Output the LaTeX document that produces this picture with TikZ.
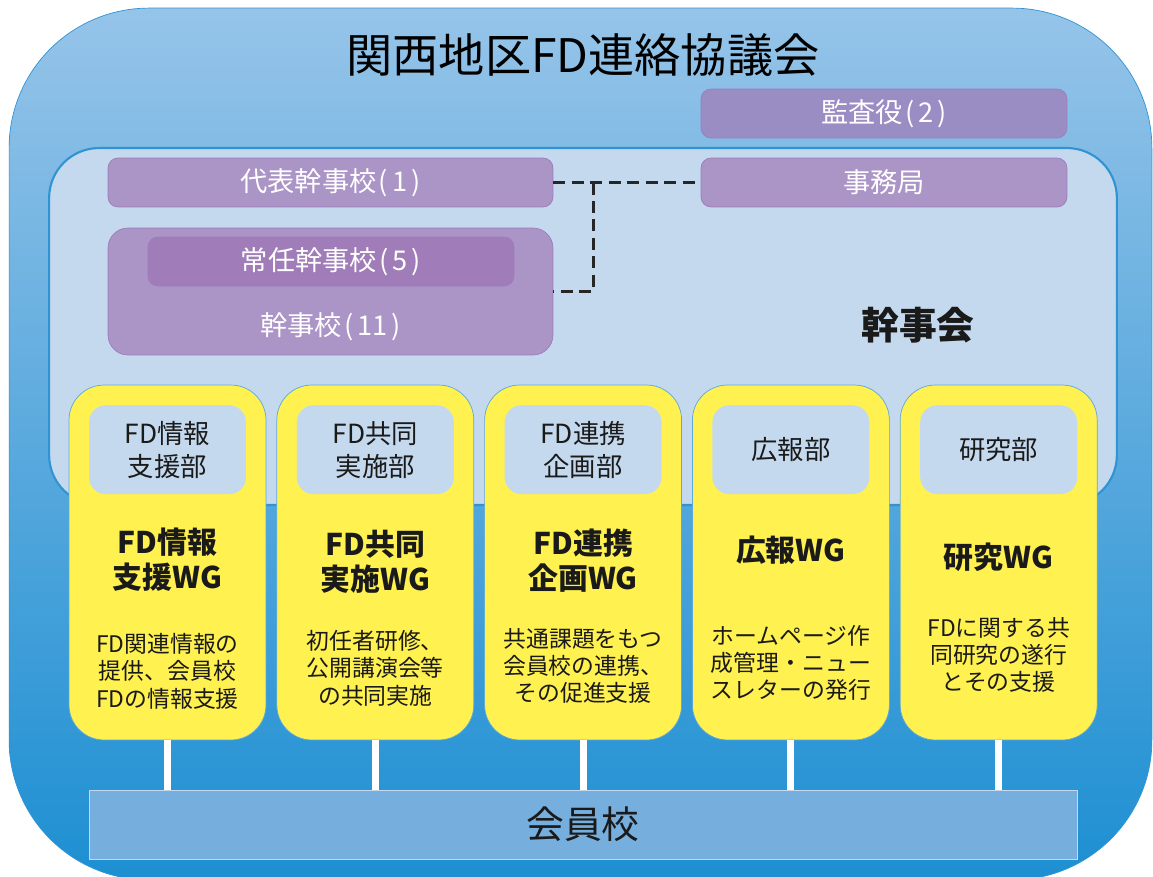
\documentclass[tikz,border=0pt]{standalone}
\usepackage{fontspec}
\setmainfont{Noto Sans CJK JP}
\usetikzlibrary{positioning}
\definecolor{skytop}{HTML}{96C4E9}
\definecolor{skybottom}{HTML}{1D8FD2}
\definecolor{skyline}{HTML}{2F93D4}
\definecolor{paleblue}{HTML}{C5D9EE}
\definecolor{lilac}{HTML}{AB94C6}
\definecolor{lilacdark}{HTML}{A07DB8}
\definecolor{lilacblue}{HTML}{998DC3}
\definecolor{lilacline}{HTML}{9C7DBA}
\definecolor{wgyellow}{HTML}{FFF150}
\definecolor{wgline}{HTML}{5BA8DC}
\definecolor{memberblue}{HTML}{76AEDD}
\definecolor{inktext}{HTML}{1A1A1A}
% number in brackets, spaced like the original
\newcommand{\pnum}[1]{\hspace{0.08em}(\hspace{0.15em}#1\hspace{0.15em})}

\begin{document}
\begin{tikzpicture}[x=0.02cm,y=-0.02cm,semithick]
\tikzstyle{council}=[rectangle,rounded corners=2.8cm,top color=skytop,bottom color=skybottom,draw=skyline,thin,minimum width=22.86cm,minimum height=17.44cm]
\tikzstyle{board}=[rectangle,rounded corners=1cm,fill=paleblue,draw=skyline,line width=1.2pt,minimum width=21.36cm,minimum height=7.14cm]
\tikzstyle{lilac box}=[rectangle,rounded corners=0.2cm,fill=lilac,draw=lilacline,thin,text=white,font=\fontsize{15.5}{18}\selectfont,minimum height=0.98cm]
\tikzstyle{wg box}=[rectangle,rounded corners=0.7cm,fill=wgyellow,draw=wgline,thin,minimum width=3.94cm,minimum height=7.1cm]
\tikzstyle{dept box}=[rectangle,rounded corners=0.34cm,fill=paleblue,minimum width=3.14cm,minimum height=1.78cm,align=center,text=inktext,font=\fontsize{15}{18.7}\selectfont]
\tikzstyle{wg title}=[align=center,text=inktext,font=\fontsize{17}{20}\selectfont\bfseries]
\tikzstyle{wg text}=[align=center,text=inktext,font=\fontsize{13}{15.6}\selectfont]
\tikzstyle{link}=[draw=black!85,line width=1.7pt,dash pattern=on 0.24cm off 0.13cm]
\tikzstyle{stem}=[draw=white,line width=0.14cm]
\useasboundingbox (0,0) rectangle (1153,876);

\node[council] (council) at (580.5,444) {};
\node (title) at (583,55) {\fontsize{26.3}{30}\selectfont 関西地区FD連絡協議会};
\node[board] (board) at (583,326.5) {};
\node[text=inktext,font=\fontsize{21.5}{25}\selectfont\bfseries] (boardname) at (918,325) {幹事会};

\node[lilac box,fill=lilacblue,minimum width=7.32cm] (audit) at (884,113.5) {監査役\pnum{2}};
\node[lilac box,minimum width=8.9cm] (daihyo) at (330.5,182.5) {代表幹事校\pnum{1}};
\node[lilac box,minimum width=7.32cm] (jimu) at (884,182.5) {事務局};
\node[lilac box,rounded corners=0.4cm,minimum width=8.9cm,minimum height=2.54cm] (kanji) at (330.5,291.5) {};
\node[lilac box,fill=lilacdark,minimum width=7.32cm] (joonin) at (331,261.5) {常任幹事校\pnum{5}};
\node[text=white,font=\fontsize{15.5}{18}\selectfont] (kanjiname) at (330.5,327) {幹事校\pnum{11}};

\coordinate (branch) at (593,182.5);
\path[link] (daihyo.east) -- (jimu.west);
\path[link] (branch) |- (kanji.east);

\node[rectangle,fill=memberblue,draw=paleblue,thin,minimum width=19.76cm,minimum height=1.38cm,font=\fontsize{21.5}{25}\selectfont,text=inktext] (member) at (583,824.5) {会員校};

\foreach \n/\dept/\wg/\desc/\ty/\dy in {
  1/{FD情報\\支援部}/{FD情報\\支援WG}/{FD関連情報の\\提供、会員校\\FDの情報支援}/560/671,
  2/{FD共同\\実施部}/{FD共同\\実施WG}/{初任者研修、\\公開講演会等\\の共同実施}/562/668,
  3/{FD連携\\企画部}/{FD連携\\企画WG}/{共通課題をもつ\\会員校の連携、\\その促進支援}/561/666,
  4/{広報部}/{広報WG}/{ホームページ作\\成管理・ニュー\\スレターの発行}/550/663,
  5/{研究部}/{研究WG}/{FDに関する共\\同研究の遂行\\とその支援}/557/655}
{
  \pgfmathsetmacro\xc{167.5+207.8*(\n-1)}
  \node[wg box] (wg\n) at (\xc,562.5) {};
  \node[dept box,below=0.4cm of wg\n.north] (dept\n) {\dept};
  \node[wg title] (wgname\n) at (\xc,\ty) {\wg};
  \node[wg text] (wgtext\n) at (\xc,\dy) {\desc};
  \path[stem] (wg\n.south) -- (wg\n.south |- member.north);
}
\end{tikzpicture}
\end{document}
